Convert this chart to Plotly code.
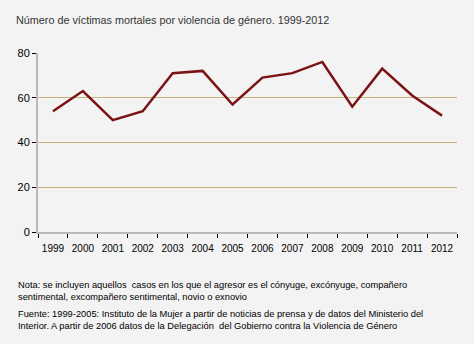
import plotly.graph_objects as go

years = ["1999", "2000", "2001", "2002", "2003", "2004", "2005",
         "2006", "2007", "2008", "2009", "2010", "2011", "2012"]
victims = [54, 63, 50, 54, 71, 72, 57, 69, 71, 76, 56, 73, 61, 52]
y_ticks = [0, 20, 40, 60, 80]

title_text = "Número de víctimas mortales por violencia de género. 1999-2012"
note_text = ("Nota: se incluyen aquellos  casos en los que el agresor es el cónyuge, excónyuge, compañero<br>"
             "sentimental, excompañero sentimental, novio o exnovio")
source_text = ("Fuente: 1999-2005: Instituto de la Mujer a partir de noticias de prensa y de datos del Ministerio del<br>"
               "Interior. A partir de 2006 datos de la Delegación  del Gobierno contra la Violencia de Género")

FONT = "Liberation Sans, Arial, sans-serif"
BG = "#f3f3f3"

fig = go.Figure()
fig.add_trace(go.Scatter(
    x=years, y=victims, mode="lines",
    line=dict(color="#7a1315", width=2.5),
    hoverinfo="skip", showlegend=False,
))

fig.update_layout(
    width=474, height=344,
    margin=dict(l=38, r=17, t=53, b=112),
    paper_bgcolor=BG, plot_bgcolor=BG,
    font=dict(family=FONT, size=10, color="#000000"),
    showlegend=False,
    xaxis=dict(
        type="category",
        showgrid=False, zeroline=False,
        showline=True, linecolor="#b9b9b9", linewidth=2,
        ticks="outside", tickson="boundaries", ticklen=4,
        tickcolor="#000000", tickwidth=1, tickangle=0,
        ticklabelstandoff=6,
        tickfont=dict(size=10, color="#000000"),
        range=[-0.5, 13.5],
    ),
    yaxis=dict(
        range=[0, 80], tickvals=y_ticks,
        showgrid=True, gridcolor="#c9b27a", gridwidth=1,
        zeroline=False,
        showline=True, linecolor="#b9b9b9", linewidth=2,
        ticks="outside", ticklen=4, tickcolor="#000000", tickwidth=1,
        tickfont=dict(size=11, color="#000000"),
    ),
    annotations=[
        dict(text=title_text, xref="paper", yref="paper",
             x=(14-38)/419, y=1 + (53-20)/179, xanchor="left", yanchor="middle",
             showarrow=False, font=dict(size=10.8, color="#333333", family=FONT)),
        dict(text=note_text, xref="paper", yref="paper",
             x=-22/419, y=-(278-232)/179, xanchor="left", yanchor="top",
             align="left", showarrow=False,
             font=dict(size=9.3, color="#000000", family=FONT)),
        dict(text=source_text, xref="paper", yref="paper",
             x=-22/419, y=-(307-232)/179, xanchor="left", yanchor="top",
             align="left", showarrow=False,
             font=dict(size=9.3, color="#000000", family=FONT)),
    ],
)

fig.write_html("out.html")
